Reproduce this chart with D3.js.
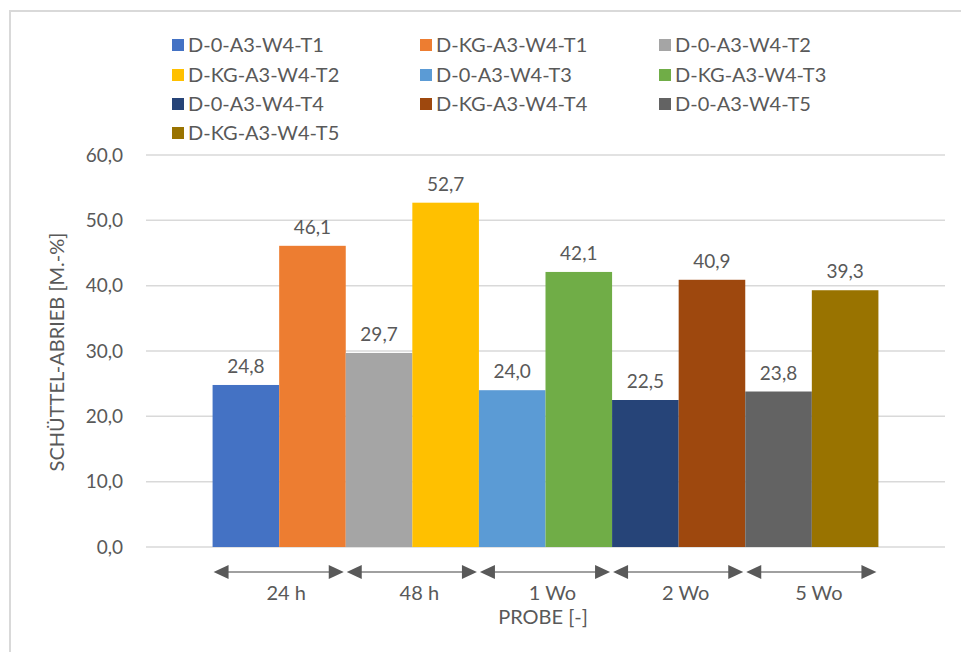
<!DOCTYPE html>
<html>
<head>
<meta charset="utf-8">
<script src="https://cdn.jsdelivr.net/npm/d3@7"></script>
<style>
  html, body { margin: 0; padding: 0; background: #fff; }
  svg { display: block; font-family: Lato, "Open Sans", sans-serif; }
</style>
</head>
<body>
<svg id="chart" width="961" height="652"></svg>
<script>
// Sample groups (category axis)
const categories = ["24 h", "48 h", "1 Wo", "2 Wo", "5 Wo"];
// Series names, in legend order
const seriesNames = [
  "D-0-A3-W4-T1", "D-KG-A3-W4-T1", "D-0-A3-W4-T2",
  "D-KG-A3-W4-T2", "D-0-A3-W4-T3", "D-KG-A3-W4-T3",
  "D-0-A3-W4-T4", "D-KG-A3-W4-T4", "D-0-A3-W4-T5",
  "D-KG-A3-W4-T5"
];
// Category each series belongs to
const seriesCategory = ["24 h", "24 h", "48 h", "48 h", "1 Wo", "1 Wo", "2 Wo", "2 Wo", "5 Wo", "5 Wo"];
// Schüttel-Abrieb values [M.-%]
const seriesValues = [24.8, 46.1, 29.7, 52.7, 24.0, 42.1, 22.5, 40.9, 23.8, 39.3];
const seriesColors = [
  "#4472C4", "#ED7D31", "#A5A5A5", "#FFC000", "#5B9BD5",
  "#70AD47", "#264478", "#9E480E", "#636363", "#997300"
];
const yTicks = [0, 10, 20, 30, 40, 50, 60];

const fmt = v => d3.format(".1f")(v).replace(".", ",");
const textColor = "#595959";

const svg = d3.select("#chart");

// chart frame
svg.append("rect")
  .attr("x", 10).attr("y", 11)
  .attr("width", 962).attr("height", 660)
  .attr("fill", "#fff").attr("stroke", "#d9d9d9").attr("stroke-width", 2);

const plot = { left: 146, right: 945, top: 155, bottom: 547 };

const x = d3.scaleBand()
  .domain(categories)
  .range([plot.left, plot.right])
  .paddingInner(0)
  .paddingOuter(0.5);

const y = d3.scaleLinear().domain([0, 60]).range([plot.bottom, plot.top]);

// gridlines
svg.append("g")
  .selectAll("line")
  .data(yTicks)
  .join("line")
  .attr("x1", plot.left).attr("x2", plot.right)
  .attr("y1", d => y(d)).attr("y2", d => y(d))
  .attr("stroke", "#d9d9d9").attr("stroke-width", 1.5);

// y axis labels
const yAxis = d3.axisLeft(y).tickValues(yTicks).tickFormat(fmt).tickSize(0).tickPadding(0);
const yg = svg.append("g").attr("transform", `translate(${plot.left - 23},0)`).call(yAxis);
yg.select(".domain").remove();
yg.selectAll("text")
  .attr("fill", textColor)
  .style("font-size", "19px")
  .style("font-family", "Lato, 'Open Sans', sans-serif");

// y axis title
svg.append("text")
  .attr("transform", `translate(64,352) rotate(-90)`)
  .attr("text-anchor", "middle")
  .attr("fill", textColor)
  .style("font-size", "20px")
  .text("SCHÜTTEL-ABRIEB [M.-%]");

// bars: two series side by side within each category
const inner = d3.scaleBand().domain([0, 1]).range([0, x.bandwidth()]);
const bars = seriesValues.map((v, i) => ({
  name: seriesNames[i],
  cat: seriesCategory[i],
  slot: seriesCategory.slice(0, i).filter(c => c === seriesCategory[i]).length,
  value: v,
  color: seriesColors[i]
}));

svg.append("g")
  .selectAll("rect")
  .data(bars)
  .join("rect")
  .attr("x", d => x(d.cat) + inner(d.slot))
  .attr("width", inner.bandwidth())
  .attr("y", d => y(d.value))
  .attr("height", d => y(0) - y(d.value))
  .attr("fill", d => d.color);

// value labels
svg.append("g")
  .selectAll("text")
  .data(bars)
  .join("text")
  .attr("x", d => x(d.cat) + inner(d.slot) + inner.bandwidth() / 2)
  .attr("y", d => y(d.value) - 12)
  .attr("text-anchor", "middle")
  .attr("fill", textColor)
  .style("font-size", "19px")
  .text(d => fmt(d.value));

// category arrows
const arrowY = 572;
const ag = svg.append("g");
categories.forEach(c => {
  const x0 = x(c), x1 = x(c) + x.bandwidth();
  ag.append("line")
    .attr("x1", x0 + 10).attr("x2", x1 - 10)
    .attr("y1", arrowY).attr("y2", arrowY)
    .attr("stroke", "#808080").attr("stroke-width", 1.5);
  ag.append("path")
    .attr("d", `M${x0 + 1},${arrowY} L${x0 + 16},${arrowY - 7} L${x0 + 16},${arrowY + 7} Z`)
    .attr("fill", "#595959");
  ag.append("path")
    .attr("d", `M${x1 - 2},${arrowY} L${x1 - 17},${arrowY - 7} L${x1 - 17},${arrowY + 7} Z`)
    .attr("fill", "#595959");
  ag.append("text")
    .attr("x", x0 + x.bandwidth() / 2 + 7)
    .attr("y", 600)
    .attr("text-anchor", "middle")
    .attr("fill", textColor)
    .style("font-size", "20px")
    .text(c);
});

// x axis title
svg.append("text")
  .attr("x", 543).attr("y", 624)
  .attr("text-anchor", "middle")
  .attr("fill", textColor)
  .style("font-size", "20px")
  .text("PROBE [-]");

// legend
const legCols = [172, 420, 659];
const legRows = [45, 75, 104, 133];
const lg = svg.append("g");
seriesNames.forEach((n, i) => {
  const cx = legCols[i % 3], cy = legRows[Math.floor(i / 3)];
  lg.append("rect")
    .attr("x", cx).attr("y", cy - 6)
    .attr("width", 12).attr("height", 12)
    .attr("fill", seriesColors[i]);
  lg.append("text")
    .attr("x", cx + 16).attr("y", cy + 7)
    .attr("fill", textColor)
    .style("font-size", "20px")
    .text(n);
});
</script>
</body>
</html>
